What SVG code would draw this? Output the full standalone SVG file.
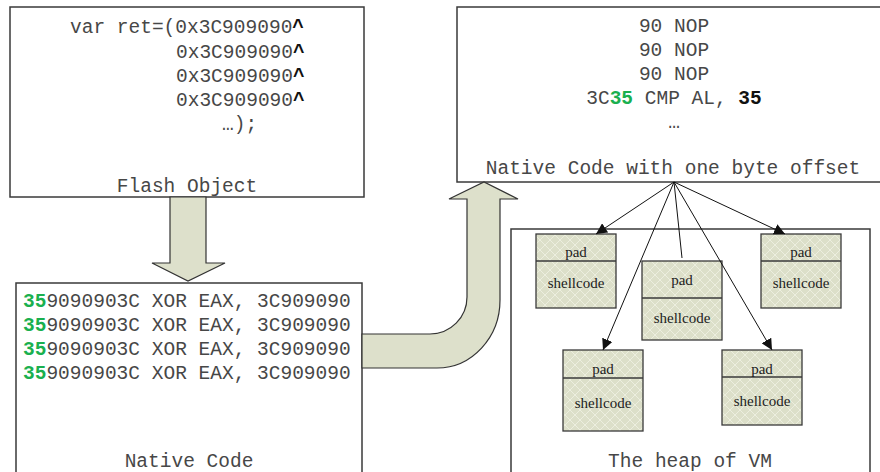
<svg xmlns="http://www.w3.org/2000/svg" width="880" height="472" viewBox="0 0 880 472">
<style>
.box{fill:#fff;stroke:#3a3a3a;stroke-width:1.5}
.mono{font-family:"Liberation Mono","Courier New",monospace;font-size:19.5px;fill:#474747}
.g{fill:#1ab04f;font-weight:bold}
.b{font-weight:bold;fill:#111}
.blk{fill:url(#hatch);stroke:#3a3a3a;stroke-width:1.3}
.ser{font-family:"Liberation Serif","Times New Roman",serif;font-size:15px;fill:#222;text-anchor:middle}
.fat{fill:#dde0cb;stroke:#333;stroke-width:1.2}
.fan{stroke:#111;stroke-width:1;fill:none}
</style>
<defs>
<pattern id="hatch" width="10" height="10" patternUnits="userSpaceOnUse">
<rect width="10" height="10" fill="#dcdfc9"/>
<path d="M0 0L10 10M10 0L0 10" stroke="#eceedf" stroke-width="1"/>
</pattern>
<marker id="ah" viewBox="0 0 10 10" refX="10" refY="5" markerWidth="11" markerHeight="11" markerUnits="userSpaceOnUse" orient="auto">
<path d="M0 0L10 5L0 10z" fill="#111"/>
</marker>
</defs>

<g id="flash-object">
<rect class="box" x="10" y="7" width="354" height="190"/>
<text class="mono" x="70" y="33">var ret=(0x3C909090<tspan class="b">^</tspan></text>
<text class="mono" x="176" y="58">0x3C909090<tspan class="b">^</tspan></text>
<text class="mono" x="176" y="82">0x3C909090<tspan class="b">^</tspan></text>
<text class="mono" x="176" y="106">0x3C909090<tspan class="b">^</tspan></text>
<text class="mono" x="222" y="130">…);</text>
<text class="mono" x="187" y="192" text-anchor="middle">Flash Object</text>
</g>

<g id="native-offset">
<rect class="box" x="457" y="7" width="440" height="175"/>
<text class="mono" x="674" y="32" text-anchor="middle">90 NOP</text>
<text class="mono" x="674" y="56" text-anchor="middle">90 NOP</text>
<text class="mono" x="674" y="80" text-anchor="middle">90 NOP</text>
<text class="mono" x="674" y="104" text-anchor="middle">3C<tspan class="g">35</tspan> CMP AL, <tspan class="b">35</tspan></text>
<text class="mono" x="674" y="128" text-anchor="middle">…</text>
<text class="mono" x="673" y="174" text-anchor="middle">Native Code with one byte offset</text>
</g>

<g id="native-code">
<rect class="box" x="16" y="283" width="346" height="200"/>
<text class="mono" x="23" y="307"><tspan class="g">35</tspan>9090903C XOR EAX, 3C909090</text>
<text class="mono" x="23" y="331"><tspan class="g">35</tspan>9090903C XOR EAX, 3C909090</text>
<text class="mono" x="23" y="355"><tspan class="g">35</tspan>9090903C XOR EAX, 3C909090</text>
<text class="mono" x="23" y="379"><tspan class="g">35</tspan>9090903C XOR EAX, 3C909090</text>
<text class="mono" x="189" y="467" text-anchor="middle">Native Code</text>
</g>

<g id="heap">
<rect class="box" x="511" y="229" width="359" height="260"/>
<text class="mono" x="690" y="467" text-anchor="middle">The heap of VM</text>
</g>

<g id="block1">
<rect class="blk" x="536" y="234" width="80" height="74"/>
<line x1="536" y1="261" x2="616" y2="261" stroke="#3a3a3a" stroke-width="1.3"/>
<text class="ser" x="576" y="257">pad</text>
<text class="ser" x="576" y="288">shellcode</text>
</g>
<g id="block2">
<rect class="blk" x="642" y="261" width="80" height="79"/>
<line x1="642" y1="298" x2="722" y2="298" stroke="#3a3a3a" stroke-width="1.3"/>
<text class="ser" x="682" y="285">pad</text>
<text class="ser" x="682" y="323">shellcode</text>
</g>
<g id="block3">
<rect class="blk" x="761" y="234" width="80" height="74"/>
<line x1="761" y1="261" x2="841" y2="261" stroke="#3a3a3a" stroke-width="1.3"/>
<text class="ser" x="801" y="257">pad</text>
<text class="ser" x="801" y="288">shellcode</text>
</g>
<g id="block4">
<rect class="blk" x="563" y="350" width="80" height="81"/>
<line x1="563" y1="378" x2="643" y2="378" stroke="#3a3a3a" stroke-width="1.3"/>
<text class="ser" x="603" y="374">pad</text>
<text class="ser" x="603" y="408">shellcode</text>
</g>
<g id="block5">
<rect class="blk" x="722" y="350" width="80" height="75"/>
<line x1="722" y1="377" x2="802" y2="377" stroke="#3a3a3a" stroke-width="1.3"/>
<text class="ser" x="762" y="374">pad</text>
<text class="ser" x="762" y="406">shellcode</text>
</g>

<g id="connectors">
<path class="fat" d="M170 197L206 197L206 263L225 263L188 281L152 263L170 263Z"/>
<path class="fat" d="M362 334L430 334A37 37 0 0 0 467 297L467 199L449 199L484 182L518 199L500 199L500 300A63 68 0 0 1 437 368L362 368Z"/>
<line class="fan" x1="674" y1="182" x2="596" y2="234" marker-end="url(#ah)"/>
<line class="fan" x1="674" y1="182" x2="603" y2="350" marker-end="url(#ah)"/>
<line class="fan" x1="674" y1="182" x2="682" y2="258"/>
<line class="fan" x1="674" y1="182" x2="772" y2="350" marker-end="url(#ah)"/>
<line class="fan" x1="674" y1="182" x2="785" y2="234" marker-end="url(#ah)"/>
</g>
</svg>
